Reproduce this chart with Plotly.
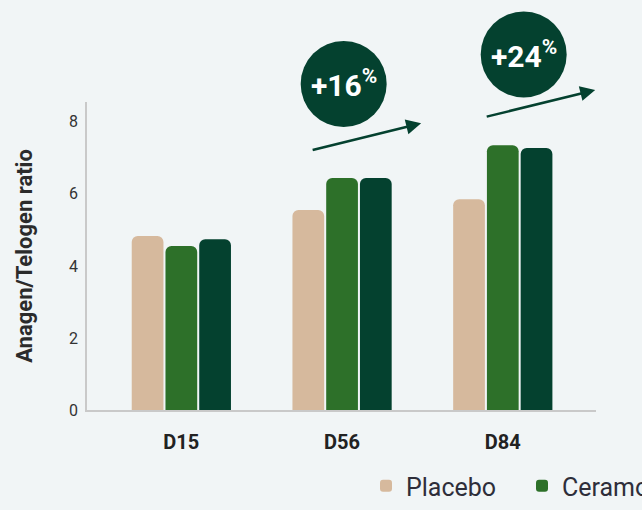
import plotly.graph_objects as go

# ---- data ----
categories = ["D15", "D56", "D84"]
placebo = [4.83, 5.55, 5.85]
ceramosides_a = [4.55, 6.44, 7.35]
ceramosides_b = [4.74, 6.44, 7.27]
series_names = ["Placebo", "Ceramosides™ 30 mg", "Ceramosides™ 60 mg"]
y_ticks = [0, 2, 4, 6, 8]
badge_texts = ["+16", "+24"]

# ---- layout constants ----
W, H = 1400, 510
ML, MR, MT, MB = 87, 0, 102, 100
GSW = W - ML - MR
PLOT_W = 509
PLOT_H = H - MT - MB
BG = "#F1F5F6"
colors = ["#D6B99D", "#2D7029", "#04412F"]
DARK = "#04412F"

def py(px):  # pixel y -> paper y
    return (H - MB - px) / PLOT_H

def px2paper(px):
    return (px - ML) / GSW

fig = go.Figure()
for name, vals, col in zip(series_names, [placebo, ceramosides_a, ceramosides_b], colors):
    fig.add_trace(go.Bar(x=categories, y=vals, name=name, marker=dict(color=col, line=dict(width=0),
                                                                          cornerradius=6)))

fig.update_layout(
    width=W, height=H,
    margin=dict(l=ML, r=MR, t=MT, b=MB, autoexpand=False),
    paper_bgcolor=BG, plot_bgcolor=BG,
    barmode="group", bargap=0.37, bargroupgap=0.06,
    font=dict(family="Roboto", color="#2B2B33"),
    showlegend=True,
    legend=dict(orientation="h", x=px2paper(366), xanchor="left", y=py(463), yanchor="top",
                font=dict(size=25, family="Roboto", color="#2E2E3A"), entrywidth=111,
                bgcolor="rgba(0,0,0,0)"),
    xaxis=dict(domain=[0, PLOT_W / GSW], range=[-0.587, 2.58], showgrid=False, zeroline=False,
               showline=True, linecolor="#C9C9C9", linewidth=2, ticks="",
               tickfont=dict(size=20, family="Roboto", color="#222222", weight="bold"),
               ticklabelstandoff=13),
    yaxis=dict(range=[0, 8.55], tickvals=y_ticks, showgrid=False, zeroline=False,
               showline=True, linecolor="#C9C9C9", linewidth=1.5, ticks="",
               tickfont=dict(size=16, family="Roboto", color="#333333"), ticklabelstandoff=4,
               title=dict(text="Anagen/Telogen ratio", standoff=30,
                          font=dict(size=22, family="Roboto", color="#2B2B2B", weight="bold"))),
)

# badges (circles with percentage) and trend arrows
badges = [dict(x=1.01, yp=84, r=43, text=badge_texts[0]),
          dict(x=2.13, yp=54.5, r=43, text=badge_texts[1])]
for b in badges:
    fig.add_shape(type="circle", xref="x", yref="paper", xsizemode="pixel", ysizemode="pixel",
                  xanchor=b["x"], yanchor=py(b["yp"]), x0=-b["r"], x1=b["r"], y0=-b["r"], y1=b["r"],
                  fillcolor=DARK, line=dict(width=0), layer="above")
    fig.add_annotation(x=b["x"], y=py(b["yp"]), xref="x", yref="paper", showarrow=False,
                       text=b["text"] + "<sup>%</sup>",
                       font=dict(size=30, family="Roboto", color="white", weight="bold"),
                       xanchor="center", yanchor="middle")

arrows = [dict(x=1.492, yp=123.3), dict(x=2.575, yp=90)]
for a in arrows:
    fig.add_annotation(x=a["x"], y=py(a["yp"]), xref="x", yref="paper", text="", showarrow=True,
                       axref="pixel", ayref="pixel", ax=-110, ay=27, arrowhead=2, arrowsize=1.2,
                       arrowwidth=2.5, arrowcolor=DARK, standoff=0)

fig.write_html("out.html",
               post_script="document.documentElement.style.overflow='hidden';document.body.style.overflow='hidden';")
